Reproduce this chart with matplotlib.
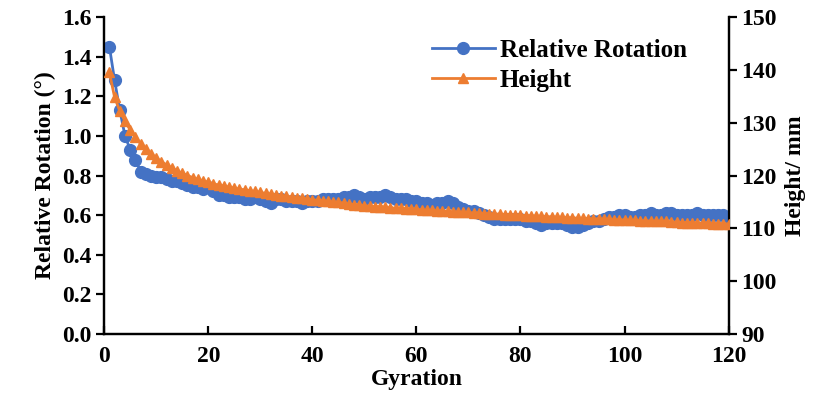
import matplotlib
matplotlib.use("Agg")
import matplotlib.pyplot as plt

# gyration cycles 1..120
gyration = list(range(1, 121))

rel_rotation = [
    1.45, 1.28, 1.13, 1.00, 0.93, 0.88, 0.82, 0.81, 0.80, 0.79,
    0.79, 0.78, 0.77, 0.77, 0.76, 0.75, 0.74, 0.74, 0.73, 0.74,
    0.72, 0.70, 0.70, 0.69, 0.69, 0.69, 0.68, 0.68, 0.69, 0.68,
    0.67, 0.66, 0.68, 0.68, 0.67, 0.67, 0.67, 0.66, 0.67, 0.67,
    0.67, 0.68, 0.68, 0.68, 0.68, 0.69, 0.69, 0.70, 0.69, 0.68,
    0.69, 0.69, 0.69, 0.70, 0.69, 0.68, 0.68, 0.68, 0.67, 0.67,
    0.66, 0.66, 0.65, 0.66, 0.66, 0.67, 0.66, 0.64, 0.63, 0.62,
    0.62, 0.61, 0.60, 0.59, 0.58, 0.58, 0.58, 0.58, 0.58, 0.58,
    0.57, 0.57, 0.56, 0.55, 0.56, 0.56, 0.56, 0.56, 0.55, 0.54,
    0.54, 0.55, 0.56, 0.57, 0.57, 0.58, 0.59, 0.59, 0.60, 0.60,
    0.59, 0.59, 0.60, 0.60, 0.61, 0.60, 0.60, 0.61, 0.61, 0.60,
    0.60, 0.60, 0.60, 0.61, 0.60, 0.60, 0.60, 0.60, 0.60, 0.59,
]

height_mm = [
    139.5, 134.8, 132.2, 130.3, 128.6, 127.2, 126.0, 125.0, 124.1, 123.3,
    122.6, 122.0, 121.4, 120.9, 120.4, 120.0, 119.6, 119.3, 119.0, 118.7,
    118.4, 118.2, 118.0, 117.8, 117.6, 117.4, 117.3, 117.1, 117.0, 116.8,
    116.6, 116.5, 116.3, 116.2, 116.1, 115.9, 115.8, 115.7, 115.6, 115.4,
    115.3, 115.2, 115.1, 115.0, 114.9, 114.8, 114.6, 114.5, 114.4, 114.3,
    114.2, 114.1, 114.1, 114.0, 113.9, 113.8, 113.8, 113.7, 113.6, 113.6,
    113.5, 113.4, 113.4, 113.3, 113.3, 113.2, 113.1, 113.1, 113.0, 113.0,
    112.9, 112.9, 112.8, 112.8, 112.7, 112.7, 112.6, 112.6, 112.5, 112.5,
    112.4, 112.4, 112.3, 112.3, 112.2, 112.2, 112.1, 112.1, 112.0, 112.0,
    111.9, 111.9, 111.8, 111.8, 111.8, 111.7, 111.7, 111.6, 111.6, 111.6,
    111.5, 111.5, 111.4, 111.4, 111.4, 111.3, 111.3, 111.3, 111.2, 111.2,
    111.1, 111.1, 111.1, 111.0, 111.0, 111.0, 110.9, 110.9, 110.9, 110.8,
]

BLUE = "#4472C4"
ORANGE = "#ED7D31"

plt.rcParams["font.family"] = ["Liberation Serif", "DejaVu Serif"]
plt.rcParams["font.weight"] = "bold"
plt.rcParams["axes.labelweight"] = "bold"

fig = plt.figure(figsize=(8.27, 4.0), dpi=100)
ax = fig.add_axes([0.126, 0.165, 0.755, 0.7925])
ax2 = ax.twinx()

l1, = ax.plot(gyration, rel_rotation, color=BLUE, lw=2.0, marker="o", ms=8.5,
              label="Relative Rotation", zorder=3)
l2, = ax2.plot(gyration, height_mm, color=ORANGE, lw=2.0, marker="^", ms=7.5,
               label="Height", zorder=4)

ax.set_xlim(0, 120)
ax.set_ylim(0, 1.6)
ax2.set_ylim(90, 150)
ax.set_xticks(range(0, 121, 20))
ax.set_yticks([i * 0.2 for i in range(9)])
ax.set_yticklabels([f"{i * 0.2:.1f}" for i in range(9)])
ax2.set_yticks(range(90, 151, 10))

for a in (ax, ax2):
    for s in a.spines.values():
        s.set_linewidth(1.6)
    a.spines["top"].set_visible(False)
ax.tick_params(axis="x", direction="in", length=6, width=1.6, labelsize=17, pad=9)
ax.tick_params(axis="y", direction="out", length=6, width=1.6, labelsize=17, pad=3)
ax2.tick_params(axis="y", direction="out", length=6, width=1.6, labelsize=17, pad=3)

ax.set_xlabel("Gyration", fontsize=17, labelpad=1)
ax.set_ylabel("Relative Rotation (°)", fontsize=17, labelpad=4)
ax2.set_ylabel("Height/ mm", fontsize=17, labelpad=6)

ax2.legend(handles=[l1, l2], loc="upper right", bbox_to_anchor=(0.965, 0.995),
           frameon=False, fontsize=18, handlelength=2.5, handletextpad=0.2,
           labelspacing=0.3, borderaxespad=0.4)

fig.savefig("out.png", dpi=100)
